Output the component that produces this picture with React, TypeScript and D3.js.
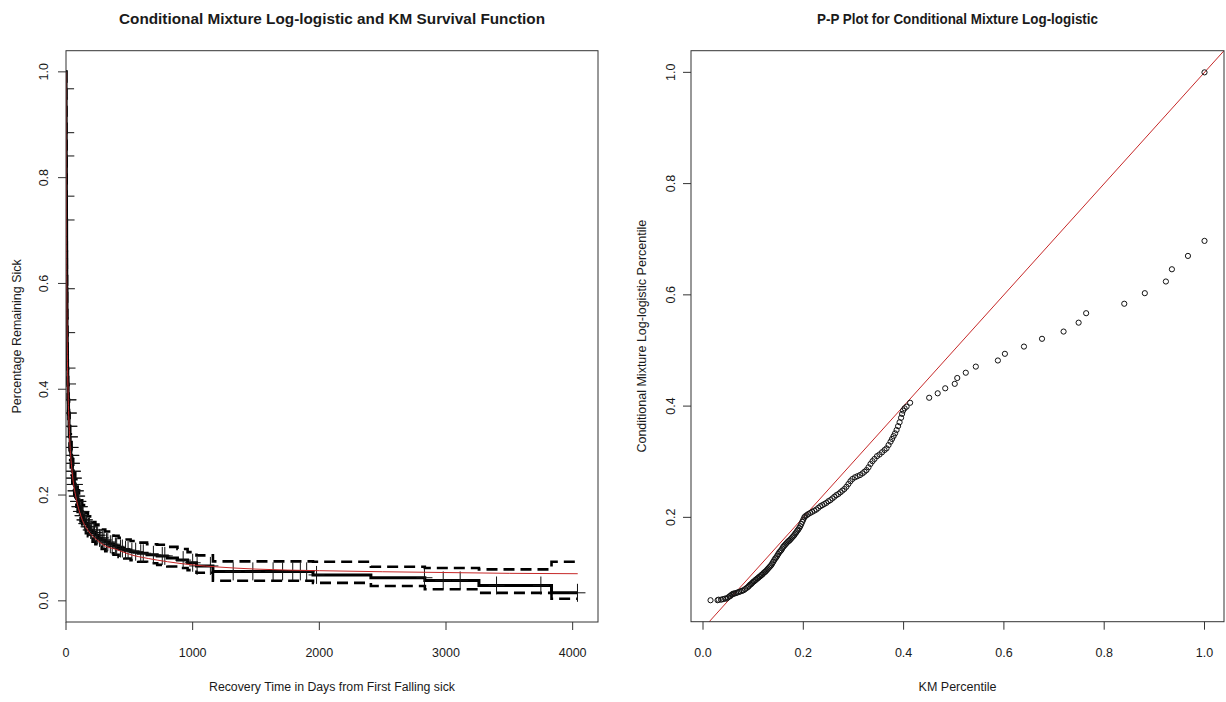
import React from "react";
import * as d3 from "d3";

// ---------- Left panel data (KM survival, CI, fitted curve) ----------
const kmTime = [0, 0.5, 1, 1.5, 2, 3, 4, 5, 6, 8, 10, 12, 14, 17, 20, 24, 28, 33, 38, 44, 50, 57, 65, 73, 82, 92, 103, 115, 128, 142, 157, 173, 190, 210, 232, 256, 282, 310, 340, 375, 415, 460, 510, 570, 640, 720, 800, 880, 960, 1030, 1160, 1950, 2407, 2833, 3260, 3833];
const kmSurv = [1.0, 0.968, 0.93, 0.885, 0.841, 0.765, 0.72, 0.66, 0.59, 0.507, 0.47, 0.44, 0.41, 0.38, 0.355, 0.33, 0.31, 0.29, 0.275, 0.26, 0.245, 0.232, 0.22, 0.208, 0.198, 0.188, 0.178, 0.169, 0.161, 0.153, 0.146, 0.14, 0.134, 0.129, 0.124, 0.119, 0.115, 0.111, 0.107, 0.103, 0.099, 0.096, 0.093, 0.09, 0.087, 0.085, 0.081, 0.077, 0.072, 0.066, 0.0557, 0.049, 0.0437, 0.0386, 0.029, 0.0152];
const kmLower = [1.0, 0.95, 0.91, 0.86, 0.815, 0.738, 0.692, 0.632, 0.562, 0.48, 0.443, 0.413, 0.383, 0.353, 0.33, 0.305, 0.285, 0.267, 0.252, 0.238, 0.223, 0.21, 0.199, 0.188, 0.178, 0.168, 0.159, 0.15, 0.142, 0.135, 0.128, 0.122, 0.117, 0.112, 0.107, 0.102, 0.098, 0.094, 0.09, 0.087, 0.083, 0.08, 0.077, 0.074, 0.071, 0.068, 0.065, 0.062, 0.058, 0.053, 0.038, 0.034, 0.028, 0.022, 0.015, 0.004];
const kmUpper = [1.0, 0.985, 0.95, 0.91, 0.867, 0.792, 0.748, 0.688, 0.618, 0.534, 0.497, 0.467, 0.437, 0.407, 0.38, 0.355, 0.335, 0.315, 0.3, 0.284, 0.268, 0.255, 0.242, 0.23, 0.22, 0.209, 0.199, 0.19, 0.181, 0.173, 0.166, 0.16, 0.154, 0.149, 0.144, 0.139, 0.135, 0.131, 0.127, 0.123, 0.119, 0.116, 0.113, 0.11, 0.107, 0.106, 0.102, 0.098, 0.092, 0.086, 0.0746, 0.074, 0.0645, 0.062, 0.0595, 0.074];
const kmEndTime = 4038;

const censorTimes = [0.6, 1.6, 2.5, 3.5, 4.5, 7, 9, 12, 16, 18, 19, 21, 22, 25, 27, 30, 31, 34, 36, 40, 42, 45, 47, 52, 55, 60, 62, 68, 70, 75, 78, 85, 88, 95, 98, 105, 110, 118, 122, 130, 135, 145, 150, 160, 165, 178, 185, 195, 200, 215, 225, 240, 250, 265, 275, 290, 300, 320, 330, 350, 365, 390, 400, 430, 445, 470, 490, 520, 550, 590, 610, 690, 760, 780, 925, 1000, 1035, 1140, 1320, 1475, 1635, 1710, 1790, 1850, 1900, 1978, 2830, 2978, 3112, 3399, 3749, 4038];

const fitTime = [0, 1, 2, 4, 6, 8, 10, 13, 16, 20, 25, 30, 40, 50, 60, 75, 90, 110, 130, 160, 200, 250, 300, 400, 500, 650, 800, 1000, 1200, 1500, 2000, 2500, 3000, 3500, 4040];
const fitSurv = [1.0, 0.9, 0.8, 0.66, 0.58, 0.52, 0.48, 0.43, 0.4, 0.36, 0.33, 0.3, 0.265, 0.24, 0.22, 0.2, 0.183, 0.166, 0.152, 0.138, 0.125, 0.114, 0.105, 0.097, 0.088, 0.08, 0.074, 0.068, 0.064, 0.06, 0.057, 0.055, 0.0535, 0.052, 0.0513];

const leftXTicks = [0, 1000, 2000, 3000, 4000];
const leftYTicks = [0.0, 0.2, 0.4, 0.6, 0.8, 1.0];

// ---------- Right panel data (P-P plot) ----------
const kmPct = [0.015, 0.029, 0.031, 0.036, 0.040, 0.044, 0.047, 0.050, 0.053, 0.055, 0.057, 0.059, 0.061, 0.063, 0.066, 0.069, 0.072, 0.075, 0.078, 0.081, 0.084, 0.087, 0.090, 0.092, 0.094, 0.096, 0.098, 0.100, 0.102, 0.104, 0.106, 0.108, 0.110, 0.112, 0.114, 0.116, 0.118, 0.120, 0.122, 0.124, 0.126, 0.128, 0.130, 0.132, 0.134, 0.136, 0.138, 0.140, 0.142, 0.144, 0.146, 0.148, 0.150, 0.152, 0.154, 0.156, 0.158, 0.160, 0.162, 0.164, 0.166, 0.168, 0.170, 0.172, 0.174, 0.176, 0.178, 0.180, 0.182, 0.184, 0.186, 0.188, 0.190, 0.192, 0.194, 0.196, 0.198, 0.200, 0.202, 0.204, 0.207, 0.210, 0.214, 0.218, 0.222, 0.226, 0.230, 0.234, 0.238, 0.242, 0.246, 0.250, 0.254, 0.258, 0.262, 0.266, 0.270, 0.274, 0.278, 0.282, 0.286, 0.290, 0.294, 0.298, 0.303, 0.308, 0.313, 0.318, 0.322, 0.326, 0.330, 0.334, 0.338, 0.342, 0.347, 0.352, 0.357, 0.362, 0.366, 0.370, 0.374, 0.377, 0.380, 0.383, 0.386, 0.389, 0.392, 0.395, 0.397, 0.399, 0.402, 0.406, 0.413, 0.451, 0.468, 0.483, 0.502, 0.507, 0.524, 0.544, 0.588, 0.602, 0.640, 0.676, 0.719, 0.749, 0.764, 0.840, 0.881, 0.923, 0.935, 0.967, 1.0, 1.0];
const modelPct = [0.051, 0.051, 0.052, 0.052, 0.053, 0.054, 0.054, 0.056, 0.058, 0.059, 0.061, 0.062, 0.063, 0.063, 0.064, 0.065, 0.066, 0.067, 0.068, 0.069, 0.071, 0.073, 0.075, 0.077, 0.079, 0.080, 0.082, 0.084, 0.085, 0.087, 0.088, 0.090, 0.091, 0.093, 0.094, 0.096, 0.097, 0.099, 0.101, 0.102, 0.104, 0.106, 0.108, 0.110, 0.112, 0.114, 0.117, 0.120, 0.123, 0.126, 0.128, 0.131, 0.134, 0.137, 0.139, 0.141, 0.144, 0.147, 0.149, 0.151, 0.153, 0.155, 0.157, 0.158, 0.160, 0.162, 0.164, 0.166, 0.168, 0.171, 0.173, 0.176, 0.178, 0.181, 0.184, 0.188, 0.192, 0.196, 0.200, 0.202, 0.204, 0.206, 0.208, 0.210, 0.212, 0.214, 0.217, 0.220, 0.222, 0.224, 0.226, 0.229, 0.231, 0.234, 0.237, 0.240, 0.242, 0.245, 0.248, 0.251, 0.255, 0.260, 0.265, 0.269, 0.272, 0.274, 0.276, 0.279, 0.282, 0.285, 0.290, 0.296, 0.301, 0.305, 0.310, 0.313, 0.317, 0.321, 0.324, 0.330, 0.336, 0.341, 0.346, 0.351, 0.357, 0.364, 0.371, 0.379, 0.386, 0.392, 0.396, 0.399, 0.406, 0.415, 0.423, 0.432, 0.440, 0.4505, 0.460, 0.471, 0.482, 0.494, 0.507, 0.521, 0.534, 0.550, 0.567, 0.584, 0.603, 0.624, 0.646, 0.670, 0.697, 1.0];

const rightXTicks = [0.0, 0.2, 0.4, 0.6, 0.8, 1.0];
const rightYTicks = [0.2, 0.4, 0.6, 0.8, 1.0];

const FONT = "'Liberation Sans', Arial, sans-serif";
const RED = "#c62828";
const AXIS = "#333";
const TXT = "#1a1a1a";

function kmAt(t: number): number {
  let v = kmSurv[0];
  for (let i = 0; i < kmTime.length; i++) if (kmTime[i] <= t) v = kmSurv[i];
  return v;
}

export default function App() {
  const L = { left: 66, right: 598, top: 50.7, bottom: 622 };
  const xL = d3.scaleLinear().domain([0, 4200]).range([L.left, L.right]);
  const yL = d3.scaleLinear().domain([-0.04, 1.04]).range([L.bottom, L.top]);
  const R = { left: 691, right: 1224, top: 50.7, bottom: 621.7 };
  const xR = d3.scaleLinear().domain([0, 1]).range([703, 1204.5]);
  const yR = d3.scaleLinear().domain([0, 1]).range([628.6, 72.35]);

  const stepLine = (vals: number[]) =>
    d3
      .line<number>()
      .x((_, i) => xL(i < kmTime.length ? kmTime[i] : kmEndTime))
      .y((_, i) => yL(vals[Math.min(i, vals.length - 1)]))
      .curve(d3.curveStepAfter)([...vals, vals[vals.length - 1]]) as string;

  const fitPath = d3
    .line<number>()
    .x((_, i) => xL(fitTime[i]))
    .y((d) => yL(d))
    .curve(d3.curveMonotoneX)(fitSurv) as string;

  const m = 8;

  const diag = d3.line<number>().x((d) => xR(d)).y((d) => yR(d))([-0.1, 1.1]) as string;

  return (
    <svg width={1226} height={702} style={{ position: "absolute", left: 0, top: 0, background: "#fff" }} fontFamily={FONT}>
      <defs>
        <clipPath id="clipL">
          <rect x={L.left} y={L.top} width={L.right - L.left} height={L.bottom - L.top} />
        </clipPath>
        <clipPath id="clipR">
          <rect x={R.left} y={R.top} width={R.right - R.left} height={R.bottom - R.top} />
        </clipPath>
      </defs>
      <rect x={0} y={0} width={1226} height={702} fill="#fff" />

      {/* ----- Left panel ----- */}
      <text x={(L.left + L.right) / 2} y={24} textAnchor="middle" fontWeight="bold" fontSize={14} textLength={426} lengthAdjust="spacingAndGlyphs" fill={TXT}>
        Conditional Mixture Log-logistic and KM Survival Function
      </text>
      <g clipPath="url(#clipL)">
        <path d={stepLine(kmUpper)} fill="none" stroke="#000" strokeWidth={2.6} strokeDasharray="11 6" />
        <path d={stepLine(kmLower)} fill="none" stroke="#000" strokeWidth={2.6} strokeDasharray="11 6" />
        <path d={stepLine(kmSurv)} fill="none" stroke="#000" strokeWidth={3} />
        {censorTimes.map((t, i) => {
          const cx = xL(t);
          const cy = yL(kmAt(t));
          return (
            <g key={i} stroke="#111" strokeWidth={1}>
              <line x1={cx - m} x2={cx + m} y1={cy} y2={cy} />
              <line x1={cx} x2={cx} y1={cy - m - 1} y2={cy + m + 1} />
            </g>
          );
        })}
        <path d={fitPath} fill="none" stroke={RED} strokeWidth={1} />
      </g>
      <rect x={L.left} y={L.top} width={L.right - L.left} height={L.bottom - L.top} fill="none" stroke={AXIS} strokeWidth={1} />
      {leftXTicks.map((t) => (
        <g key={t}>
          <line x1={xL(t)} x2={xL(t)} y1={L.bottom} y2={L.bottom + 8} stroke={AXIS} />
          <text x={xL(t)} y={657} textAnchor="middle" fontSize={12.5} fill={TXT}>
            {t}
          </text>
        </g>
      ))}
      {leftYTicks.map((t) => (
        <g key={t}>
          <line x1={L.left - 8} x2={L.left} y1={yL(t)} y2={yL(t)} stroke={AXIS} />
          <text transform={`translate(48,${yL(t)}) rotate(-90)`} textAnchor="middle" fontSize={12.5} fill={TXT}>
            {t.toFixed(1)}
          </text>
        </g>
      ))}
      <text x={(L.left + L.right) / 2} y={691} textAnchor="middle" fontSize={12.5} textLength={246} lengthAdjust="spacingAndGlyphs" fill={TXT}>
        Recovery Time in Days from First Falling sick
      </text>
      <text transform={`translate(21,${(L.top + L.bottom) / 2}) rotate(-90)`} textAnchor="middle" fontSize={12.5} fill={TXT}>
        Percentage Remaining Sick
      </text>

      {/* ----- Right panel ----- */}
      <text x={(R.left + R.right) / 2} y={24} textAnchor="middle" fontWeight="bold" fontSize={14} textLength={281} lengthAdjust="spacingAndGlyphs" fill={TXT}>
        P-P Plot for Conditional Mixture Log-logistic
      </text>
      <g clipPath="url(#clipR)">
        <path d={diag} fill="none" stroke={RED} strokeWidth={1} />
        {kmPct.map((x, i) => (
          <circle key={i} cx={xR(x)} cy={yR(modelPct[i])} r={2.6} fill="none" stroke="#111" strokeWidth={1} />
        ))}
      </g>
      <rect x={R.left} y={R.top} width={R.right - R.left} height={R.bottom - R.top} fill="none" stroke={AXIS} strokeWidth={1} />
      {rightXTicks.map((t) => (
        <g key={t}>
          <line x1={xR(t)} x2={xR(t)} y1={R.bottom} y2={R.bottom + 8} stroke={AXIS} />
          <text x={xR(t)} y={657} textAnchor="middle" fontSize={12.5} fill={TXT}>
            {t.toFixed(1)}
          </text>
        </g>
      ))}
      {rightYTicks.map((t) => (
        <g key={t}>
          <line x1={R.left - 8} x2={R.left} y1={yR(t)} y2={yR(t)} stroke={AXIS} />
          <text transform={`translate(675,${yR(t)}) rotate(-90)`} textAnchor="middle" fontSize={12.5} fill={TXT}>
            {t.toFixed(1)}
          </text>
        </g>
      ))}
      <text x={(R.left + R.right) / 2} y={691} textAnchor="middle" fontSize={12.5} fill={TXT}>
        KM Percentile
      </text>
      <text transform={`translate(646,${(R.top + R.bottom) / 2}) rotate(-90)`} textAnchor="middle" fontSize={12.5} fill={TXT}>
        Conditional Mixture Log-logistic Percentile
      </text>
    </svg>
  );
}
